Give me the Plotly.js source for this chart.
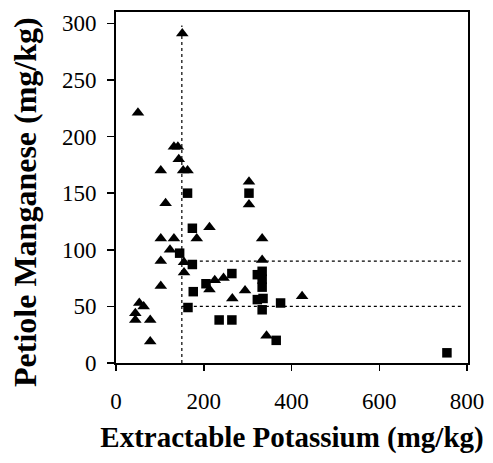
<!DOCTYPE html>
<html>
<head>
<meta charset="utf-8">
<script src="https://cdn.plot.ly/plotly-3.0.1.min.js"></script>
<style>html,body{margin:0;padding:0;background:#fff;}#chart{width:493px;height:463px;}</style>
</head>
<body>
<div id="chart"></div>
<script>
// Triangle series (extractable K, petiole Mn)
var triK  = [50, 151, 132, 141, 143, 102, 153, 163, 303, 303, 113, 213, 102, 132, 184, 333, 123, 102, 155, 333, 155, 102, 225, 245, 213, 294, 265, 53, 63, 44, 44, 78, 78, 343, 424];
var triMn = [221, 291, 191, 191, 180, 170, 170, 170, 160, 140, 141, 120, 110, 110, 110, 110, 100, 90, 89, 91, 80, 68, 73, 75, 65, 64, 57, 53, 50, 44, 38, 38, 19, 24, 59];
// Square series
var sqK  = [163, 303, 174, 145, 174, 264, 322, 333, 333, 333, 205, 176, 164, 322, 335, 333, 375, 235, 264, 365, 754];
var sqMn = [150, 150, 119, 97, 87, 79, 78, 81, 74, 67, 70, 63, 49, 56, 57, 47, 53, 38, 38, 20, 9];
// Dotted reference lines
var vLineK = [150, 150];
var vLineMn = [0, 298];
var hLine90K = [150, 790];
var hLine90Mn = [90, 90];
var hLine50K = [150, 790];
var hLine50Mn = [50, 50];
// Axis ticks
var xTicks = [0, 200, 400, 600, 800];
var yTicks = [0, 50, 100, 150, 200, 250, 300];
var xTitle = 'Extractable Potassium (mg/kg)';
var yTitle = 'Petiole Manganese (mg/kg)';

var dotted = {color: '#000', width: 1.2, dash: 'dot'};
var traces = [
  {x: vLineK, y: vLineMn, mode: 'lines', line: dotted, hoverinfo: 'skip', showlegend: false},
  {x: hLine90K, y: hLine90Mn, mode: 'lines', line: dotted, hoverinfo: 'skip', showlegend: false},
  {x: hLine50K, y: hLine50Mn, mode: 'lines', line: dotted, hoverinfo: 'skip', showlegend: false},
  {x: triK, y: triMn, mode: 'markers', marker: {symbol: 'triangle-up', size: 11, color: '#000'}, showlegend: false},
  {x: sqK, y: sqMn, mode: 'markers', marker: {symbol: 'square', size: 9.5, color: '#000'}, showlegend: false}
];

var fontFam = '"Liberation Serif", "Times New Roman", serif';
var layout = {
  width: 493, height: 463,
  margin: {l: 116, r: 25, t: 12, b: 100},
  paper_bgcolor: '#fff', plot_bgcolor: '#fff',
  font: {family: fontFam, color: '#000', size: 23},
  xaxis: {
    range: [0, 802], tickvals: xTicks, ticktext: xTicks.map(String),
    showgrid: false, zeroline: false,
    showline: true, linecolor: '#000', linewidth: 2, mirror: true,
    ticks: 'outside', ticklen: 6, tickwidth: 1.5, tickcolor: '#000',
    tickfont: {family: fontFam, size: 23, color: '#000'},
    ticklabelstandoff: 10,
    title: {text: '<b>' + xTitle + '</b>', font: {family: fontFam, size: 29, color: '#000'}, standoff: 14}
  },
  yaxis: {
    range: [0, 310], tickvals: yTicks, ticktext: yTicks.map(String),
    showgrid: false, zeroline: false,
    showline: true, linecolor: '#000', linewidth: 2, mirror: true,
    ticks: 'outside', ticklen: 7, tickwidth: 1.5, tickcolor: '#000',
    tickfont: {family: fontFam, size: 23, color: '#000'},
    ticklabelstandoff: 6
  },
  annotations: [{
    text: '<b>' + yTitle + '</b>', textangle: -90,
    xref: 'paper', yref: 'paper', x: 0, y: 0.4587,
    xanchor: 'center', yanchor: 'middle', xshift: -91,
    showarrow: false, font: {family: fontFam, size: 32, color: '#000'}
  }]
};
Plotly.newPlot('chart', traces, layout, {displayModeBar: false, staticPlot: true});
</script>
</body>
</html>
